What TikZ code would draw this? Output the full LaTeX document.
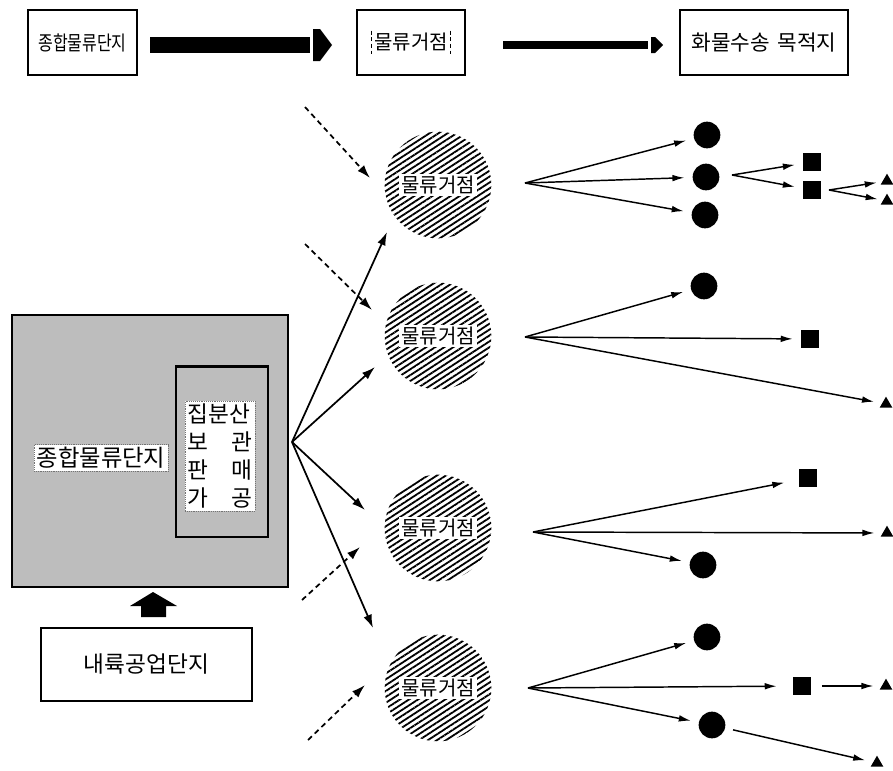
\documentclass[tikz,border=0pt]{standalone}
\usepackage{fontspec}
\setmainfont{Noto Sans CJK KR}
\usetikzlibrary{arrows.meta,patterns.meta,shapes.geometric}

\begin{document}
\begin{tikzpicture}[x=0.75pt,y=-0.75pt,
  box/.style={draw, line width=1.2pt, inner sep=0pt},
  hub/.style={circle, minimum size=80pt, inner sep=0pt,
    pattern={Lines[angle=33, distance=3.7pt, line width=1.35pt]}},
  hublabel/.style={fill=white, inner sep=1.5pt, font=\fontsize{15}{17}\selectfont},
  dot/.style={circle, fill=black, minimum size=20pt, inner sep=0pt},
  sq/.style={rectangle, fill=black, minimum size=13.5pt, inner sep=0pt},
  tri/.style={regular polygon, regular polygon sides=3, fill=black, minimum size=11pt, inner sep=0pt},
  fan/.style={line width=1.1pt, -{Latex[length=9pt,width=5pt]}, shorten >=6pt},
  feed/.style={line width=1.3pt, -{Latex[length=10pt,width=6.5pt]}},
  dashfeed/.style={line width=1.3pt, dash pattern=on 4pt off 3pt, -{Latex[length=10pt,width=6.5pt]}},
  tag/.style={fill=white, draw=black!55, densely dotted, line width=0.4pt, inner sep=2pt}
]
\useasboundingbox (0,0) rectangle (893,771);

% ---- top legend row ----
\node[box, minimum width=82pt, minimum height=49pt] (b1) at (82.5,42.5)
  {\fontsize{15}{17}\selectfont\scalebox{0.8}[1]{종합물류단지}};
\node[box, minimum width=81pt, minimum height=49pt] (b2) at (411,42.5) {};
\node[font=\fontsize{15}{17}\selectfont, inner sep=2pt] (b2t) at (b2) {물류거점};
\draw[densely dashed, line width=0.5pt] (b2t.north west) -- (b2t.south west)
      (b2t.north east) -- (b2t.south east);
\node[box, minimum width=126pt, minimum height=49pt,
      font=\fontsize{16}{18}\selectfont] (b3) at (764,42.5) {화물수송\hspace{0.35em}목적지};

% thick block arrows between the legend boxes
\fill (150,37) rectangle (310,53);
\fill (313,29) -- (320,29) -- (332,45) -- (320,61) -- (313,61) -- cycle;
\fill (503,41) rectangle (648,49);
\fill (651,37) -- (655,37) -- (663,45) -- (655,53) -- (651,53) -- cycle;

% ---- logistics complex ----
\node[draw, line width=1.5pt, fill=black!26, minimum width=207pt, minimum height=204pt,
      inner sep=0pt] (park) at (150,451) {};
\node[draw, line width=2pt, fill=black!26, minimum width=69pt, minimum height=128pt,
      inner sep=0pt] (core) at (222,451.5) {};
\node[tag, font=\fontsize{17.5}{20}\selectfont] (parkt) at (101,458) {종합물류단지};
\node[tag, align=left, font=\fontsize{17}{21}\selectfont] (coret) at (220,456)
  {집분산\\보　관\\판　매\\가　공};

% inland industrial complex feeding the park
\node[box, minimum width=158pt, minimum height=55pt,
      font=\fontsize{17}{19}\selectfont] (inland) at (146.5,664.5) {내륙공업단지};
\fill (153,592) -- (177,606) -- (166,606) -- (166,617) -- (141,617) -- (141,606)
      -- (130,606) -- cycle;

% ---- logistics hubs ----
\node[hub] (c1) at (438,185) {};
\node[hub] (c2) at (438,336) {};
\node[hub] (c3) at (438,528) {};
\node[hub] (c4) at (438,688) {};
\foreach \c in {c1,c2,c3,c4}
  \node[hublabel] at (\c) {물류거점};

% fan from the park to the hubs
\coordinate (p0) at (292,442);
\coordinate (p1) at (387,232);
\coordinate (p2) at (375,367);
\coordinate (p3) at (365,510);
\coordinate (p4) at (373,628);
\foreach \p in {p1,p2,p3,p4}
  \draw[feed] (p0) -- (\p);

% other sources (dashed)
\coordinate (d1s) at (305,107);  \coordinate (d1e) at (370,178);
\coordinate (d2s) at (305,244);  \coordinate (d2e) at (372,310);
\coordinate (d3s) at (302,600);  \coordinate (d3e) at (360,547);
\coordinate (d4s) at (308,740);  \coordinate (d4e) at (365,685);
\draw[dashfeed] (d1s) -- (d1e);
\draw[dashfeed] (d2s) -- (d2e);
\draw[dashfeed] (d3s) -- (d3e);
\draw[dashfeed] (d4s) -- (d4e);

% ---- destinations ----
% hub 1
\coordinate (f1) at (525,183);
\node[dot] (o11) at (707,135) {};
\node[dot] (o12) at (706,177) {};
\node[dot] (o13) at (705,215) {};
\draw[fan] (f1) -- (o11);
\draw[fan] (f1) -- (o12);
\draw[fan] (f1) -- (o13);
\coordinate (f12) at (732,175);
\node[sq] (s11) at (812,162) {};
\node[sq] (s12) at (812,190) {};
\draw[fan] (f12) -- (s11);
\draw[fan] (f12) -- (s12);
\coordinate (f13) at (829,190);
\node[tri] (t11) at (887,181) {};
\node[tri] (t12) at (887,201) {};
\draw[fan, shorten >=4pt] (f13) -- (t11);
\draw[fan, shorten >=4pt] (f13) -- (t12);

% hub 2
\coordinate (f2) at (525,337);
\node[dot] (o21) at (704,286) {};
\node[sq] (s21) at (810,339) {};
\node[tri] (t21) at (886,404) {};
\draw[fan] (f2) -- (o21);
\draw[fan] (f2) -- (s21);
\draw[fan] (f2) -- (t21);

% hub 3
\coordinate (f3) at (533,532);
\node[sq] (s31) at (808,478) {};
\node[tri] (t31) at (887,533) {};
\node[dot] (o31) at (703,565) {};
\draw[fan, shorten >=11pt] (f3) -- (s31);
\draw[fan] (f3) -- (t31);
\draw[fan] (f3) -- (o31);

% hub 4
\coordinate (f4) at (528,688);
\node[dot] (o41) at (707,637) {};
\node[sq] (s41) at (802,686) {};
\node[dot] (o42) at (712,725) {};
\node[tri] (t41) at (886,686) {};
\node[tri] (t42) at (877,763) {};
\draw[fan] (f4) -- (o41);
\draw[fan, shorten >=12pt] (f4) -- (s41);
\draw[fan] (f4) -- (o42);
\draw[fan, shorten <=8pt] (s41) -- (t41);
\draw[fan, shorten <=6pt] (o42) -- (t42);

\end{tikzpicture}
\end{document}
